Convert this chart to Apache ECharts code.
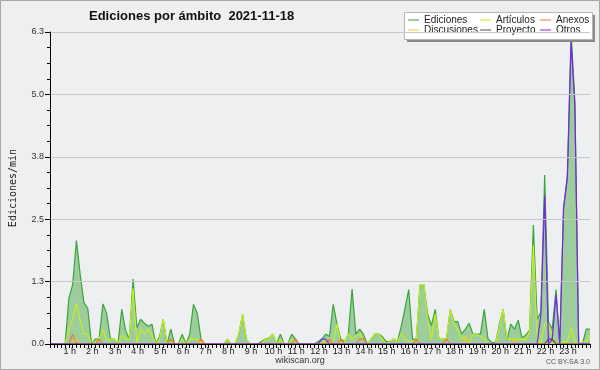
<!DOCTYPE html>
<html><head><meta charset="utf-8">
<script src="https://cdn.jsdelivr.net/npm/echarts@6/dist/echarts.min.js"></script>
<style>html,body{margin:0;padding:0;background:#eeeff1}#c{width:600px;height:370px}</style>
</head><body><div id="c"></div>
<script>
const titleText = 'Ediciones por ámbito  2021-11-18';
const hourLabels = ['1 h','2 h','3 h','4 h','5 h','6 h','7 h','8 h','9 h','10 h','11 h','12 h','13 h','14 h','15 h','16 h','17 h','18 h','19 h','20 h','21 h','22 h','23 h'];
const yTickLabels = ['0.0','1.3','2.5','3.8','5.0','6.3'];
const seriesNames = ['Ediciones','Artículos','Anexos','Discusiones','Proyecto','Otros'];

const ediciones = [
 0,0,0,0,0,0.92,1.2,2.09,1.4,0.83,0.72,0,
 0.1,0.1,0.81,0.62,0.1,0.1,0,0.7,0.28,0.1,1.31,0.33,
 0.5,0.42,0.36,0.4,0,0.15,0.5,0,0.3,0,0,0.2,
 0,0.2,0.8,0.62,0.1,0,0,0,0,0,0,0.1,
 0,0,0.2,0.6,0.1,0,0,0,0.05,0.1,0.12,0.2,
 0,0.2,0,0,0.2,0.1,0,0,0,0,0,0.05,
 0.1,0.2,0.15,0.8,0.4,0.1,0.05,0.2,1.11,0.2,0.3,0.2,
 0,0.1,0.2,0.2,0.15,0.05,0.05,0.1,0.05,0.35,0.72,1.1,
 0.1,0.1,1.2,1.2,0.6,0.37,0.7,0.1,0.1,0.1,0.7,0.45,
 0.45,0.2,0.3,0.42,0.2,0.2,0.2,0.7,0.1,0.03,0.03,0.4,
 0.7,0.08,0.4,0.3,0.48,0.12,0.18,0.28,2.4,0.5,0.65,3.41,
 0.45,0.3,1.1,0,2.74,3.4,6.28,4.9,0,0,0.3,0.3
];
const articulos = [
 0,0,0,0,0,0.28,0.5,0.81,0.48,0.2,0.2,0,
 0.05,0.1,0.3,0.07,0.1,0.1,0,0.18,0.1,0.1,1.12,0,
 0.3,0.2,0.3,0.18,0,0.1,0.5,0,0.1,0,0,0.1,
 0,0.1,0.1,0.1,0,0,0,0,0,0,0,0.1,
 0,0,0.2,0.6,0.1,0,0,0,0,0.1,0.1,0.2,
 0,0.1,0,0,0.1,0,0,0,0,0,0,0,
 0,0.1,0,0.05,0.4,0,0.05,0.2,0.1,0.15,0.2,0.1,
 0,0.1,0.2,0.2,0.1,0,0.05,0.1,0.05,0.2,0.1,0.05,
 0.05,0.1,1.2,1.2,0.5,0.1,0.6,0.1,0.1,0.1,0.7,0.4,
 0.3,0.1,0.15,0,0.2,0.2,0.15,0.1,0,0,0,0.35,
 0.7,0.1,0.1,0.1,0.1,0.1,0.1,0.25,2.0,0.1,0,0.4,
 0.4,0.15,0,0,0.05,0.05,0.32,0.05,0,0.05,0.05,0.18
];
const anexos = [
 0,0,0,0,0,0,0.2,0,0,0,0,0,
 0,0.1,0,0,0,0,0,0,0,0,0,0,
 0,0,0,0,0,0,0,0,0.1,0,0,0,
 0,0,0,0,0.1,0,0,0,0,0,0,0,
 0,0,0,0,0,0,0,0,0,0,0,0,
 0,0,0,0,0,0.1,0,0,0,0,0,0,
 0,0,0.1,0,0,0.1,0,0,0,0,0.1,0.1,
 0,0,0,0,0,0,0,0,0,0,0,0,
 0,0.1,0,0,0,0,0,0,0,0.1,0,0,
 0,0,0,0,0,0,0,0,0,0,0,0,
 0,0,0,0,0,0,0,0,0,0,0,0,
 0,0.1,0,0,0,0,0,0,0,0,0,0
];
const discusiones = [
 0,0,0,0,0,0,0,0.1,0,0,0,0,
 0,0,0,0,0,0,0,0,0,0,0,0,
 0,0,0,0,0,0,0,0,0,0,0,0,
 0,0,0,0,0.05,0,0,0,0,0,0,0,
 0,0,0,0,0,0,0,0,0,0,0,0,
 0,0,0,0,0,0,0,0,0,0,0,0,
 0,0,0,0,0,0,0,0,0,0,0,0,
 0,0,0,0,0,0,0,0,0,0,0,0,
 0,0,0,0,0,0,0,0,0,0,0,0,
 0,0,0.1,0,0,0,0,0,0,0,0,0,
 0,0,0,0.1,0,0,0,0,0,0,0,0,
 0,0,0,0,0,0,0,0,0,0,0,0
];
const proyecto = [
 0,0,0,0,0,0,0,0,0,0,0,0,
 0,0,0,0,0,0,0,0,0,0,0,0,
 0,0,0,0,0,0,0,0,0,0,0,0,
 0,0,0,0,0,0,0,0,0,0,0,0,
 0,0,0,0,0,0,0,0,0,0,0,0,
 0,0,0,0,0,0,0,0,0,0,0,0,
 0,0,0,0,0,0,0,0,0,0,0,0,
 0,0,0,0,0,0,0,0,0,0,0,0,
 0,0,0,0,0,0,0,0,0,0,0,0,
 0,0,0,0,0,0,0,0,0,0,0,0,
 0,0,0,0,0,0,0,0,0,0,0,0,
 0.1,0.1,0,0,0,0,0,0,0,0,0,0
];
const otros = [
 0,0,0,0,0,0,0,0,0,0,0,0,
 0,0,0,0,0,0,0,0,0,0,0,0,
 0,0,0,0,0,0,0,0,0,0,0,0,
 0,0,0,0,0,0,0,0,0,0,0,0,
 0,0,0,0,0,0,0,0,0,0,0,0,
 0,0,0,0,0,0,0,0,0,0,0,0,
 0.1,0.1,0,0,0,0,0,0,0,0,0,0,
 0,0,0,0,0,0,0,0,0,0,0,0,
 0,0,0,0,0,0,0,0,0,0,0,0,
 0,0,0,0,0,0,0,0,0,0,0,0,
 0,0,0,0,0,0,0,0,0,0,0.6,3.0,
 0,0.1,1.0,0,2.74,3.35,6.1,4.8,0,0,0,0
];

const slots = [];
for (let h = 0; h < 24; h++) for (let m = 0; m < 60; m += 10) slots.push(h + ':' + String(m).padStart(2, '0'));

const colors = {
  'Ediciones': '#3aa53a', 'Artículos': '#c4ef1f', 'Anexos': '#ef7a35',
  'Discusiones': '#f2c230', 'Proyecto': '#505050', 'Otros': '#7d22ee'
};
const values = [ediciones, articulos, anexos, discusiones, proyecto, otros];

const legendText = {fontFamily: 'Liberation Sans', fontSize: 10, lineHeight: 10, color: '#222'};
function legendCol(names, left) {
  return {data: names, left: left, top: 15, orient: 'vertical', icon: 'rect', itemWidth: 11, itemHeight: 1,
    itemGap: 0, padding: 0, textStyle: legendText, z: 6};
}

const series = seriesNames.map((n, k) => {
  const s = {name: n, type: 'line', data: values[k], symbol: 'none', smooth: false,
    lineStyle: {color: colors[n], width: 1.2}, itemStyle: {color: colors[n]}, z: 2 + k * 0.01};
  if (k === 0) s.areaStyle = {color: '#9dcd9d', opacity: 1};
  return s;
});

const chart = echarts.init(document.getElementById('c'), null, {renderer: 'canvas'});
chart.setOption({
  backgroundColor: '#eeeff1',
  animation: false,
  title: {text: titleText, left: 84, top: 5,
    textStyle: {fontFamily: 'Liberation Sans', fontWeight: 'bold', fontSize: 13, color: '#111'}},
  grid: {left: 46, right: 10, top: 32, bottom: 26},
  legend: [
    legendCol(['Ediciones', 'Discusiones'], 408),
    legendCol(['Artículos', 'Proyecto'], 480),
    legendCol(['Anexos', 'Otros'], 540)
  ],
  xAxis: {
    type: 'category', data: slots, boundaryGap: false, z: 10,
    axisLine: {lineStyle: {color: '#000', width: 1}},
    axisTick: {show: true, interval: 0, length: 4, lineStyle: {color: '#000'}},
    axisLabel: {
      interval: (i) => i > 0 && i % 6 === 0,
      formatter: (v, i) => hourLabels[i / 6 - 1],
      fontFamily: 'Liberation Sans', fontSize: 9, color: '#222', margin: 3, padding: [0, 6, 0, 0]
    },
    splitLine: {show: false}
  },
  yAxis: {
    type: 'value', min: 0, max: 6.3, interval: 1.26, z: 10,
    name: 'Ediciones/min', nameLocation: 'middle', nameGap: 32, nameRotate: 90,
    nameTextStyle: {fontFamily: 'DejaVu Sans Mono', fontSize: 10, color: '#222'},
    axisLine: {show: true, lineStyle: {color: '#000'}},
    axisTick: {show: true, length: 5, lineStyle: {color: '#000'}},
    minorTick: {show: true, splitNumber: 4, length: 3, lineStyle: {color: '#000'}},
    axisLabel: {formatter: (v, i) => yTickLabels[i], fontFamily: 'Liberation Sans', fontSize: 9, color: '#333', margin: 6},
    splitLine: {show: true, lineStyle: {color: '#c8c8c8'}}
  },
  series: series,
  graphic: [
    {type: 'rect', shape: {x: 0.5, y: 0.5, width: 599, height: 369}, style: {fill: 'none', stroke: '#a8a8a8', lineWidth: 1}, z: 0, silent: true},
    {type: 'rect', shape: {x: 407, y: 15, width: 188, height: 27}, style: {fill: '#8a8a8a'}, z: 3, silent: true},
    {type: 'rect', shape: {x: 404.5, y: 12.5, width: 188, height: 27}, style: {fill: '#ffffff', stroke: '#b5b5b5', lineWidth: 1}, z: 3, silent: true},
    {type: 'text', x: 300, y: 361, style: {text: 'wikiscan.org', font: '9px "Liberation Sans"', fill: '#333', align: 'center', verticalAlign: 'middle'}, z: 5},
    {type: 'text', x: 590, y: 362, style: {text: 'CC BY-SA 3.0', font: '7px "Liberation Sans"', fill: '#555', align: 'right', verticalAlign: 'middle'}, z: 5}
  ]
});
</script>
</body></html>
